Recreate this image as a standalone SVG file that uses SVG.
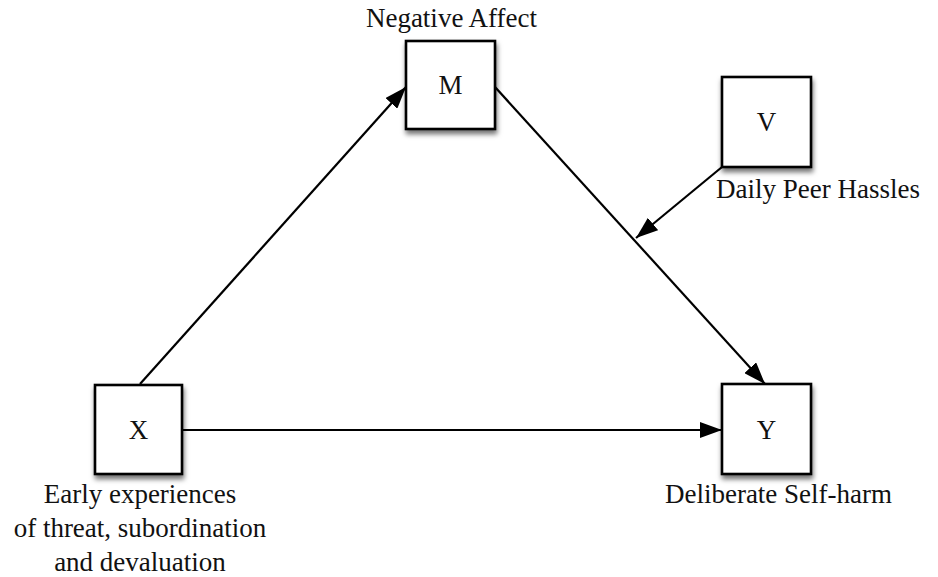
<svg xmlns="http://www.w3.org/2000/svg" width="938" height="577" viewBox="0 0 938 577">
<style>
.box{fill:#fff;stroke:#000;stroke-width:2.6;filter:url(#sh)}
.lbl{font-family:"Liberation Serif","Times New Roman",serif;font-size:27px;fill:#111}
.var{font-family:"Liberation Serif","Times New Roman",serif;font-size:27px;fill:#111;text-anchor:middle}
.edge{stroke:#000;stroke-width:2.2;fill:none;marker-end:url(#ah)}
</style>
<defs>
<filter id="sh" x="-20%" y="-20%" width="150%" height="150%">
<feDropShadow dx="1" dy="4" stdDeviation="2.5" flood-color="#000" flood-opacity="0.55"/>
</filter>
<marker id="ah" markerWidth="22" markerHeight="16" refX="22" refY="8" orient="auto" markerUnits="userSpaceOnUse">
<path d="M0,0 L22,8 L0,16 Z" fill="#000"/>
</marker>
</defs>
<rect width="938" height="577" fill="#fff"/>
<g id="connectors">
<line class="edge" x1="140" y1="384" x2="406" y2="87"/>
<line class="edge" x1="495" y1="87" x2="765" y2="384"/>
<line class="edge" x1="722" y1="167" x2="636" y2="238"/>
<line class="edge" x1="182" y1="430" x2="722" y2="430"/>
</g>
<g id="node-M">
<rect class="box" x="406" y="41" width="89" height="88"/>
<text class="var" x="450.5" y="94">M</text>
<text class="lbl" x="451.5" y="27" text-anchor="middle">Negative Affect</text>
</g>
<g id="node-V">
<rect class="box" x="722" y="77" width="89" height="90"/>
<text class="var" x="766.5" y="131">V</text>
<text class="lbl" x="716" y="198">Daily Peer Hassles</text>
</g>
<g id="node-X">
<rect class="box" x="95" y="385" width="87" height="89"/>
<text class="var" x="138.5" y="439">X</text>
<text class="lbl" x="140" y="503" text-anchor="middle">Early experiences</text>
<text class="lbl" x="140" y="537" text-anchor="middle">of threat, subordination</text>
<text class="lbl" x="140" y="571" text-anchor="middle">and devaluation</text>
</g>
<g id="node-Y">
<rect class="box" x="722" y="384" width="89" height="90"/>
<text class="var" x="766.5" y="439">Y</text>
<text class="lbl" x="778.5" y="503" text-anchor="middle">Deliberate Self-harm</text>
</g>
</svg>
